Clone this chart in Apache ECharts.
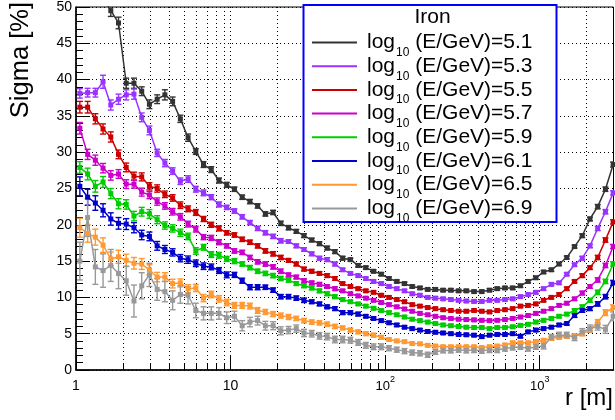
<!DOCTYPE html>
<html>
<head>
<meta charset="utf-8">
<script src="https://cdn.jsdelivr.net/npm/echarts@6/dist/echarts.min.js"></script>
<style>
  html, body { margin: 0; padding: 0; background: #fff; }
  #chart { width: 615px; height: 420px; }
</style>
</head>
<body>
<div id="chart"></div>
<script>
// Core distance r [m] (log-spaced bin centres)
const radius = [1.059, 1.189, 1.334, 1.496, 1.679, 1.884, 2.113, 2.371, 2.661, 2.985,
  3.350, 3.758, 4.217, 4.732, 5.309, 5.957, 6.683, 7.499, 8.414, 9.441,
  10.59, 11.89, 13.34, 14.96, 16.79, 18.84, 21.13, 23.71, 26.61, 29.85,
  33.50, 37.58, 42.17, 47.32, 53.09, 59.57, 66.83, 74.99, 84.14, 94.41,
  105.9, 118.9, 133.4, 149.6, 167.9, 188.4, 211.3, 237.1, 266.1, 298.5,
  335.0, 375.8, 421.7, 473.2, 530.9, 595.7, 668.3, 749.9, 841.4, 944.1,
  1059, 1189, 1334, 1496, 1679, 1884, 2113, 2371, 2661, 2985];

// log10(E/GeV) of each curve
const energies = ['5.1', '5.3', '5.5', '5.7', '5.9', '6.1', '6.5', '6.9'];

// Sigma [%] per energy
const sigma51 = [null, null, null, 51.2, 49.5, 47.8, 39.5, 39.5, 38.4, 36.6,
  37.3, 37.9, 37.0, 34.6, 32.0, 30.1, 28.3, 27.6, 26.1, 25.5,
  24.9, 23.8, 23.2, 22.6, 21.5, 21.7, 20.2, 19.6, 19.1, 18.5,
  17.9, 17.4, 16.8, 16.3, 15.4, 15.2, 14.4, 14.1, 13.6, 13.2,
  12.6, 12.2, 11.9, 11.5, 11.3, 11.1, 11.1, 11.0, 11.0, 10.9,
  10.9, 10.8, 10.8, 11.0, 11.2, 11.3, 11.3, 11.6, 12.2, 12.7,
  13.5, 13.8, 14.6, 15.5, 17.0, 18.5, 20.8, 22.5, 24.9, 28.3];
const sigma53 = [38.1, 38.2, 38.2, 39.7, 36.5, 37.3, 37.9, 38.0, 34.8, 33.0,
  29.9, 28.5, 27.4, 26.0, 26.3, 24.9, 24.4, 23.8, 22.8, 22.4,
  21.9, 21.1, 20.3, 19.5, 18.9, 18.4, 17.8, 17.7, 17.1, 16.6,
  16.0, 15.4, 15.2, 14.6, 13.8, 13.3, 13.0, 12.6, 12.2, 11.9,
  11.5, 11.2, 10.9, 10.5, 10.3, 10.0, 9.9, 9.8, 9.7, 9.6,
  9.5, 9.45, 9.45, 9.6, 9.6, 9.7, 9.8, 10.1, 10.4, 10.7,
  11.2, 11.8, 12.0, 13.2, 14.5, 15.4, 17.1, 19.5, 21.8, 24.4];
const sigma55 = [36.2, 36.2, 34.6, 33.2, 32.1, 29.7, 27.9, 26.7, 26.6, 25.3,
  25.0, 24.2, 23.7, 22.7, 22.2, 21.7, 20.8, 20.0, 19.5, 18.9,
  18.6, 18.0, 17.6, 17.1, 16.4, 16.0, 15.5, 15.1, 14.6, 13.9,
  13.6, 13.3, 13.0, 12.6, 11.9, 11.5, 11.2, 10.9, 10.7, 10.3,
  10.0, 9.7, 9.4, 9.0, 8.8, 8.6, 8.45, 8.3, 8.2, 8.1,
  8.1, 8.2, 8.1, 8.0, 8.2, 8.3, 8.45, 8.8, 8.9, 9.1,
  9.6, 10.0, 10.4, 11.2, 12.2, 13.0, 14.1, 15.5, 17.9, 20.4];
const sigma57 = [33.3, 29.7, 28.9, 27.8, 26.8, 27.0, 25.6, 25.6, 24.5, 24.1,
  23.2, 22.6, 21.8, 21.1, 20.1, 19.4, 18.3, 18.2, 17.6, 17.1,
  16.4, 16.2, 15.5, 14.9, 14.6, 14.2, 13.6, 13.1, 12.8, 12.3,
  12.0, 11.8, 11.5, 11.2, 10.9, 10.5, 10.2, 9.9, 9.6, 9.3,
  9.0, 8.7, 8.4, 8.1, 7.8, 7.6, 7.4, 7.2, 7.1, 7.0,
  6.95, 6.9, 6.85, 6.8, 6.85, 6.95, 7.1, 7.3, 7.5, 7.8,
  8.1, 8.45, 8.9, 9.2, 9.8, 10.6, 11.5, 12.4, 14.4, 17.0];
const sigma59 = [27.9, 27.0, 25.3, 25.9, 24.3, 22.9, 22.8, 21.2, 21.8, 21.5,
  20.7, 19.9, 19.5, 18.9, 18.4, 16.4, 16.9, 15.9, 15.8, 15.3,
  15.0, 14.6, 14.1, 13.6, 13.3, 13.0, 12.6, 12.4, 11.9, 11.6,
  11.3, 10.9, 10.5, 10.1, 9.7, 9.4, 9.1, 8.8, 8.5, 8.2,
  7.9, 7.6, 7.3, 7.0, 6.8, 6.6, 6.4, 6.2, 6.1, 6.0,
  5.9, 5.85, 5.85, 5.7, 5.85, 5.85, 5.95, 6.15, 6.3, 6.6,
  6.85, 7.1, 7.4, 7.7, 8.2, 8.7, 9.6, 10.7, 12.2, 14.6];
const sigma61 = [25.3, 23.8, 23.0, 22.0, 20.8, 20.2, 20.1, 19.6, 18.6, 18.4,
  17.1, 16.6, 16.2, 15.4, 15.2, 14.7, 14.3, 14.2, 13.7, 13.1,
  13.1, 12.3, 11.4, 11.4, 11.4, 11.0, 10.1, 10.1, 9.9, 9.6,
  9.4, 9.1, 8.7, 8.45, 7.9, 7.9, 7.7, 7.4, 7.1, 6.8,
  6.5, 6.2, 5.9, 5.7, 5.5, 5.3, 5.2, 5.1, 5.0, 4.9,
  4.85, 4.8, 4.6, 4.8, 4.9, 4.9, 5.0, 4.65, 5.25, 5.5,
  5.7, 5.9, 6.2, 6.4, 7.5, 8.2, 8.45, 9.1, 10.1, 12.0];
const sigma65 = [19.6, 18.8, 18.3, 17.2, 15.3, 15.6, 15.1, 14.7, 14.6, 13.8,
  12.8, 12.8, 11.9, 12.0, 11.2, 11.3, 9.9, 10.4, 9.8, 9.3,
  8.9, 8.9, 8.8, 8.2, 8.0, 7.7, 7.5, 7.3, 7.1, 6.8,
  6.6, 6.5, 6.3, 6.0, 5.8, 5.5, 5.25, 5.0, 4.8, 4.5,
  4.2, 4.0, 3.9, 3.65, 3.6, 3.4, 3.3, 3.2, 3.2, 3.2,
  3.2, 3.2, 3.1, 3.2, 3.3, 3.45, 3.75, 3.75, 3.75, 3.9,
  4.1, 4.35, 4.5, 4.65, 4.65, 5.0, 5.5, 6.6, 7.9, 8.6];
const sigma69 = [15.0, 21.0, 14.2, 13.7, 14.4, 13.3, 12.3, 9.5, 11.6, 13.1,
  11.1, 10.8, 9.6, 10.4, 10.3, 8.2, 7.8, 7.8, 7.8, 7.2,
  7.4, 6.1, 6.6, 6.8, 6.1, 6.1, 5.4, 5.5, 5.7, 5.1,
  5.0, 4.7, 4.6, 4.2, 4.2, 4.1, 3.8, 3.4, 3.2, 3.2,
  3.0, 2.8, 2.6, 2.4, 2.3, 2.1, 2.5, 2.7, 2.7, 2.8,
  2.7, 2.75, 2.65, 2.75, 2.75, 2.95, 3.1, 3.2, 2.95, 3.2,
  3.3, 4.5, 4.8, 4.8, 4.5, 5.25, 5.7, 6.0, 5.6, 7.4];

// Statistical uncertainties (half-width of error bar, %)
const err51 = [0, 0, 0, 0.8, 0.8, 0.8, 0.7, 0.7, 0.6, 0.6,
  0.6, 0.7, 0.6, 0.5, 0.5, 0.4, 0.4, 0.4, 0.35, 0.35,
  0.3, 0.3, 0.3, 0.3, 0.3, 0.3, 0.3, 0.3, 0.25, 0.25,
  0.25, 0.25, 0.25, 0.25, 0.25, 0.2, 0.2, 0.2, 0.2, 0.2,
  0.2, 0.2, 0.2, 0.2, 0.2, 0.2, 0.2, 0.2, 0.2, 0.2,
  0.2, 0.2, 0.2, 0.2, 0.2, 0.2, 0.2, 0.2, 0.2, 0.2,
  0.2, 0.2, 0.2, 0.2, 0.2, 0.25, 0.25, 0.3, 0.3, 0.35];
const err53 = [0.65, 0.6, 0.6, 0.9, 0.7, 0.7, 0.7, 0.7, 0.6, 0.6,
  0.5, 0.5, 0.45, 0.45, 0.45, 0.4, 0.4, 0.35, 0.35, 0.3,
  0.3, 0.3, 0.3, 0.3, 0.3, 0.3, 0.3, 0.25, 0.25, 0.25,
  0.25, 0.25, 0.25, 0.25, 0.2, 0.2, 0.2, 0.2, 0.2, 0.2,
  0.2, 0.2, 0.2, 0.2, 0.2, 0.2, 0.2, 0.2, 0.2, 0.2,
  0.2, 0.2, 0.2, 0.2, 0.2, 0.2, 0.2, 0.2, 0.2, 0.2,
  0.2, 0.2, 0.2, 0.2, 0.2, 0.25, 0.25, 0.3, 0.3, 0.3];
const err55 = [0.8, 0.8, 0.7, 0.7, 0.7, 0.6, 0.6, 0.55, 0.55, 0.5,
  0.5, 0.45, 0.45, 0.45, 0.4, 0.4, 0.35, 0.35, 0.35, 0.3,
  0.3, 0.3, 0.3, 0.3, 0.3, 0.3, 0.3, 0.25, 0.25, 0.25,
  0.25, 0.25, 0.25, 0.25, 0.2, 0.2, 0.2, 0.2, 0.2, 0.2,
  0.2, 0.2, 0.2, 0.2, 0.2, 0.2, 0.2, 0.2, 0.2, 0.2,
  0.2, 0.2, 0.2, 0.2, 0.2, 0.2, 0.2, 0.2, 0.2, 0.2,
  0.2, 0.2, 0.2, 0.2, 0.2, 0.25, 0.25, 0.3, 0.3, 0.3];
const err57 = [0.8, 0.7, 0.7, 0.65, 0.65, 0.6, 0.6, 0.55, 0.55, 0.5,
  0.5, 0.45, 0.45, 0.45, 0.4, 0.4, 0.35, 0.35, 0.35, 0.3,
  0.3, 0.3, 0.3, 0.3, 0.3, 0.3, 0.3, 0.25, 0.25, 0.25,
  0.25, 0.25, 0.25, 0.25, 0.2, 0.2, 0.2, 0.2, 0.2, 0.2,
  0.2, 0.2, 0.2, 0.2, 0.2, 0.2, 0.2, 0.2, 0.2, 0.2,
  0.2, 0.2, 0.2, 0.2, 0.2, 0.2, 0.2, 0.2, 0.2, 0.2,
  0.2, 0.2, 0.2, 0.2, 0.2, 0.25, 0.25, 0.3, 0.3, 0.3];
const err59 = [0.8, 0.8, 0.8, 0.75, 0.7, 0.7, 0.65, 0.65, 0.6, 0.6,
  0.55, 0.5, 0.5, 0.5, 0.45, 0.45, 0.4, 0.4, 0.4, 0.35,
  0.35, 0.3, 0.3, 0.3, 0.3, 0.3, 0.3, 0.3, 0.25, 0.25,
  0.25, 0.25, 0.25, 0.25, 0.25, 0.2, 0.2, 0.2, 0.2, 0.2,
  0.2, 0.2, 0.2, 0.2, 0.2, 0.2, 0.2, 0.2, 0.2, 0.2,
  0.2, 0.2, 0.2, 0.2, 0.2, 0.2, 0.2, 0.2, 0.2, 0.2,
  0.2, 0.2, 0.2, 0.2, 0.2, 0.25, 0.25, 0.3, 0.3, 0.3];
const err61 = [1.3, 1.1, 1.0, 0.9, 0.85, 0.8, 0.75, 0.7, 0.65, 0.6,
  0.6, 0.55, 0.5, 0.5, 0.5, 0.45, 0.45, 0.4, 0.4, 0.4,
  0.35, 0.35, 0.35, 0.35, 0.3, 0.3, 0.3, 0.3, 0.3, 0.3,
  0.25, 0.25, 0.25, 0.25, 0.25, 0.25, 0.25, 0.2, 0.2, 0.2,
  0.2, 0.2, 0.2, 0.2, 0.2, 0.2, 0.2, 0.2, 0.2, 0.2,
  0.2, 0.2, 0.2, 0.2, 0.2, 0.2, 0.2, 0.2, 0.2, 0.2,
  0.2, 0.2, 0.2, 0.2, 0.25, 0.25, 0.25, 0.3, 0.3, 0.35];
const err65 = [1.3, 1.2, 1.1, 1.0, 0.95, 0.9, 0.85, 0.8, 0.75, 0.7,
  0.65, 0.6, 0.6, 0.55, 0.55, 0.5, 0.5, 0.45, 0.45, 0.45,
  0.4, 0.4, 0.4, 0.4, 0.35, 0.35, 0.35, 0.35, 0.3, 0.3,
  0.3, 0.3, 0.3, 0.3, 0.25, 0.25, 0.25, 0.25, 0.25, 0.25,
  0.2, 0.2, 0.2, 0.2, 0.2, 0.2, 0.2, 0.2, 0.2, 0.2,
  0.2, 0.2, 0.2, 0.2, 0.2, 0.2, 0.2, 0.2, 0.2, 0.2,
  0.2, 0.25, 0.25, 0.25, 0.25, 0.3, 0.3, 0.35, 0.4, 0.4];
const err69 = [2.6, 2.6, 2.4, 2.3, 2.2, 2.1, 2.0, 2.2, 1.8, 1.6,
  1.5, 1.4, 1.3, 1.2, 1.2, 1.0, 0.9, 0.9, 0.8, 0.8,
  0.7, 0.7, 0.65, 0.6, 0.6, 0.55, 0.55, 0.5, 0.5, 0.5,
  0.45, 0.45, 0.45, 0.45, 0.45, 0.4, 0.4, 0.4, 0.4, 0.4,
  0.35, 0.35, 0.35, 0.35, 0.35, 0.35, 0.35, 0.35, 0.35, 0.35,
  0.35, 0.35, 0.35, 0.35, 0.35, 0.35, 0.35, 0.35, 0.35, 0.35,
  0.4, 0.4, 0.4, 0.4, 0.45, 0.45, 0.5, 0.5, 0.55, 0.6];

// Minor decade positions used for the ROOT-style log grid and minor ticks
const logGridValues = [2, 3, 4, 5, 6, 7, 8, 9, 20, 30, 40, 50, 60, 70, 80, 90,
  200, 300, 400, 500, 600, 700, 800, 900, 2000];

const sigmaSets = [sigma51, sigma53, sigma55, sigma57, sigma59, sigma61, sigma65, sigma69];
const errSets = [err51, err53, err55, err57, err59, err61, err65, err69];
const lineColors = ['#333333', '#9933ff', '#cc0000', '#cc00cc', '#00cc00', '#0000cc', '#ff9933', '#999999'];

const FONT = '"Liberation Sans", Arial, Helvetica, sans-serif';

function errorBarRenderer(color) {
  return function (params, api) {
    const lo = api.value(1), hi = api.value(2);
    if (!isFinite(lo) || !isFinite(hi)) return null;
    const cs = params.coordSys;
    const top = cs.y, bottom = cs.y + cs.height;
    const pLo = api.coord([api.value(0), lo]);
    const pHi = api.coord([api.value(0), hi]);
    const x = pLo[0];
    let y1 = pHi[1], y2 = pLo[1];
    const capTop = y1 >= top, capBot = y2 <= bottom;
    y1 = Math.max(y1, top);
    y2 = Math.min(y2, bottom);
    if (y1 >= y2) return null;
    const st = { stroke: color, lineWidth: 1.4 };
    const children = [{ type: 'line', shape: { x1: x, y1: y1, x2: x, y2: y2 }, style: st }];
    if (capTop) children.push({ type: 'line', shape: { x1: x - 3, y1: y1, x2: x + 3, y2: y1 }, style: st });
    if (capBot) children.push({ type: 'line', shape: { x1: x - 3, y1: y2, x2: x + 3, y2: y2 }, style: st });
    return { type: 'group', children: children };
  };
}

function logGridRenderer(params, api) {
  const cs = params.coordSys;
  const x = Math.round(api.coord([api.value(0), 0])[0]) + 0.5;
  const top = cs.y, bottom = cs.y + cs.height;
  return {
    type: 'group',
    children: [
      { type: 'line', shape: { x1: x, y1: top, x2: x, y2: bottom },
        style: { stroke: '#000', lineWidth: 1, lineDash: [1, 3] } },
      { type: 'line', shape: { x1: x, y1: bottom, x2: x, y2: bottom - 7 },
        style: { stroke: '#000', lineWidth: 1 } }
    ]
  };
}

const series = [{
  type: 'custom',
  name: 'logGrid',
  data: logGridValues.map(v => [v, 0]),
  encode: { x: 0, y: 1 },
  renderItem: logGridRenderer,
  silent: true,
  z: 1
}];

energies.forEach((e, s) => {
  const vals = sigmaSets[s], errs = errSets[s], color = lineColors[s];
  series.push({
    type: 'custom',
    name: 'err ' + e,
    data: radius.map((r, i) => vals[i] == null ? [r, NaN, NaN] : [r, vals[i] - errs[i], vals[i] + errs[i]]),
    encode: { x: 0, y: [1, 2] },
    renderItem: errorBarRenderer(color),
    silent: true,
    clip: true,
    z: 2
  });
  series.push({
    type: 'line',
    name: e,
    data: radius.map((r, i) => [r, vals[i]]),
    symbol: 'rect',
    symbolSize: 5,
    showSymbol: true,
    clip: true,
    connectNulls: false,
    lineStyle: { color: color, width: 1.5 },
    itemStyle: { color: color, borderWidth: 0 },
    emphasis: { disabled: true },
    z: 3
  });
});

const chart = echarts.init(document.getElementById('chart'), null, { renderer: 'canvas' });
chart.setOption({
  animation: false,
  backgroundColor: '#fff',
  textStyle: { fontFamily: FONT },
  grid: {
    left: 76, right: 1.5, top: 5, bottom: 50,
    show: true, borderColor: '#000', borderWidth: 1, backgroundColor: 'transparent'
  },
  xAxis: {
    type: 'log', logBase: 10, min: 1, max: 3000,
    axisLine: { show: true, onZero: false, lineStyle: { color: '#000', width: 1.5 } },
    axisTick: { show: true, inside: true, length: 14, lineStyle: { color: '#000' } },
    splitLine: { show: true, lineStyle: { color: '#000', width: 1, type: [1, 3] } },
    axisLabel: {
      fontFamily: FONT, fontSize: 14, color: '#000', margin: 5, lineHeight: 22,
      showMaxLabel: false,
      formatter: function (v) {
        const lg = Math.log10(v), e = Math.round(lg);
        if (Math.abs(lg - e) > 1e-6) return '';
        if (e === 0) return '1';
        if (e === 1) return '10';
        return '{b|10}{s|' + e + '}';
      },
      rich: {
        b: { fontFamily: FONT, fontSize: 13, lineHeight: 22, color: '#000' },
        s: { fontFamily: FONT, fontSize: 9, lineHeight: 9, padding: [0, 0, 13, 0], color: '#000' }
      }
    }
  },
  yAxis: {
    type: 'value', min: 0, max: 50, interval: 5,
    axisLine: { show: true, onZero: false, lineStyle: { color: '#000', width: 1.5 } },
    axisTick: { show: true, inside: true, length: 14, lineStyle: { color: '#000' } },
    minorTick: { show: true, splitNumber: 5, length: 7, lineStyle: { color: '#000' } },
    splitLine: { show: true, lineStyle: { color: '#000', width: 1, type: [1, 3] } },
    axisLabel: { fontFamily: FONT, fontSize: 14, color: '#000', margin: 4 }
  },
  legend: {
    orient: 'vertical',
    left: 312, top: 26.5,
    padding: 0,
    itemWidth: 45, itemHeight: 2,
    itemGap: -8.3,
    icon: 'rect',
    selectedMode: false,
    data: energies,
    itemStyle: { borderWidth: 0 },
    formatter: name => 'log{sub|10} (E/GeV)=' + name,
    textStyle: {
      fontFamily: FONT, fontSize: 21, color: '#000', lineHeight: 24, padding: [0, 0, 0, 5],
      rich: {
        sub: { fontFamily: FONT, fontSize: 12, lineHeight: 12, padding: [20, 0, 0, 1], color: '#000' }
      }
    },
    z: 60
  },
  graphic: [
    { type: 'rect', z: 50, silent: true,
      shape: { x: 303.5, y: 5, width: 253, height: 217 },
      style: { fill: '#fff', stroke: '#0000ff', lineWidth: 2 } },
    { type: 'text', z: 60, silent: true, x: 432.5, y: 17.5,
      style: { text: 'Iron', font: '21px ' + FONT, fill: '#000', align: 'center', verticalAlign: 'middle' } },
    { type: 'text', z: 60, silent: true, x: 21, y: 2, rotation: Math.PI / 2,
      style: { text: 'Sigma [%]', font: '25.5px ' + FONT, fill: '#000', align: 'right', verticalAlign: 'middle' } },
    { type: 'text', z: 60, silent: true, x: 613, y: 398,
      style: { text: 'r [m]', font: '24px ' + FONT, fill: '#000', align: 'right', verticalAlign: 'middle' } }
  ],
  series: series
});
</script>
</body>
</html>
